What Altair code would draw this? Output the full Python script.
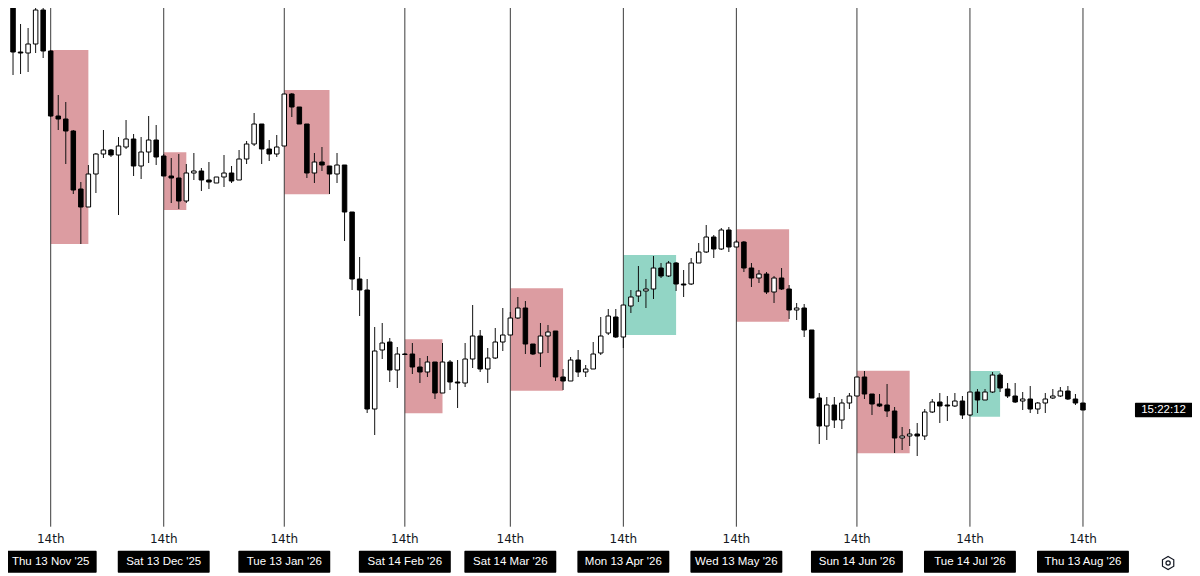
import altair as alt
import pandas as pd

# ---- candle data (2-day candles, index order) ----
OPEN = [605, 548, 547, 556, 590, 549, 484, 481, 469, 411,
        393, 426, 446, 450, 445, 453, 461, 434, 448, 460,
        444, 424, 422, 399, 427, 429, 420, 417, 423, 427,
        420, 441, 456, 476, 451, 446, 454, 506, 493, 476,
        427, 438, 434, 426, 435, 388, 321, 310, 191, 250,
        258, 230, 246, 246, 233, 228, 238, 207, 238, 218,
        217, 241, 264, 231, 242, 258, 265, 282, 292, 256,
        247, 264, 269, 223, 219, 240, 228, 231, 247, 267,
        283, 263, 294, 304, 309, 311, 332, 324, 337, 316,
        316, 337, 348, 363, 351, 370, 353, 358, 332, 322,
        326, 308, 322, 311, 290, 292, 270, 202, 174, 195,
        180, 197, 204, 223, 206, 196, 195, 189, 162, 164,
        166, 164, 188, 198, 195, 194, 199, 185, 208, 200,
        208, 225, 211, 204, 199, 201, 191, 197, 202, 204,
        209, 201, 197]
HIGH = [612, 576, 572, 596, 603, 550, 505, 498, 470, 418,
        435, 447, 470, 451, 463, 480, 466, 463, 484, 475,
        446, 442, 446, 436, 447, 432, 438, 423, 445, 434,
        450, 459, 487, 476, 460, 465, 506, 507, 493, 476,
        447, 453, 434, 447, 435, 388, 343, 321, 273, 277,
        262, 253, 247, 257, 242, 244, 238, 257, 240, 240,
        257, 295, 270, 252, 272, 292, 288, 303, 299, 256,
        277, 275, 269, 231, 243, 250, 235, 258, 283, 291,
        291, 295, 310, 334, 321, 344, 337, 339, 338, 330,
        342, 357, 375, 365, 372, 373, 360, 359, 337, 330,
        328, 324, 332, 315, 297, 296, 270, 207, 203, 203,
        201, 207, 223, 229, 206, 206, 216, 193, 173, 171,
        177, 191, 201, 207, 204, 207, 204, 208, 211, 211,
        228, 227, 217, 217, 208, 214, 198, 207, 211, 213,
        214, 206, 197]
LOW = [525, 526, 528, 547, 542, 483, 470, 436, 406, 356,
       393, 407, 442, 443, 385, 451, 424, 421, 437, 435,
       424, 397, 391, 397, 420, 409, 411, 417, 413, 417,
       420, 436, 454, 436, 439, 443, 454, 483, 476, 422,
       417, 429, 406, 417, 359, 310, 284, 187, 165, 241,
       218, 212, 245, 226, 217, 223, 201, 207, 210, 192,
       213, 232, 228, 217, 241, 249, 265, 281, 246, 245,
       233, 247, 219, 210, 219, 223, 223, 231, 245, 265,
       262, 252, 287, 298, 292, 301, 322, 323, 309, 303,
       315, 337, 347, 342, 350, 348, 353, 328, 313, 317,
       306, 297, 310, 281, 280, 263, 202, 156, 160, 172,
       171, 191, 204, 201, 185, 193, 183, 147, 150, 154,
       144, 160, 187, 177, 179, 193, 181, 184, 187, 200,
       207, 208, 202, 197, 190, 187, 186, 187, 201, 203,
       200, 195, 190]
CLOSE = [548, 547, 556, 590, 549, 484, 481, 469, 410, 393,
         426, 446, 450, 445, 454, 461, 434, 448, 460, 443,
         424, 422, 399, 427, 429, 420, 418, 423, 427, 419,
         441, 456, 476, 451, 446, 453, 506, 493, 476, 427,
         438, 435, 426, 435, 388, 321, 310, 191, 249, 257,
         230, 246, 245.5, 233, 228, 238, 207, 238, 218, 217,
         241, 264, 231, 242, 258, 265, 282, 292, 256, 246,
         264, 268, 223, 219, 240, 228, 231, 246, 264, 284,
         263, 295, 303, 309, 311, 332, 324, 337, 316, 315,
         337, 348, 363, 351, 370, 353, 358, 332, 322, 326,
         308, 322, 311, 290, 292, 270, 202, 174, 195, 180,
         197, 204, 223, 206, 196, 194, 189, 162, 164, 166,
         164, 188, 198, 194, 194, 199, 185, 208, 200, 208,
         225, 212, 204, 198, 201, 191, 197, 201, 204, 209,
         201, 197, 190]

# ---- monthly markers ----
LINE_IDX = [5, 20, 36, 52, 66, 81, 96, 112, 127, 142]
LINE_TEXT = ["14th"] * 10
DATE_LABELS = ["Thu 13 Nov '25", "Sat 13 Dec '25", "Tue 13 Jan '26", "Sat 14 Feb '26",
               "Sat 14 Mar '26", "Mon 13 Apr '26", "Wed 13 May '26", "Sun 14 Jun '26",
               "Tue 14 Jul '26", "Thu 13 Aug '26"]

# ---- shaded range boxes ----
BOX_START = [5, 20, 36, 52, 66, 81, 96, 112, 127]
BOX_END = [10, 23, 42, 57, 73, 88, 103, 119, 131]
BOX_TOP = [550, 447.7, 510, 260.7, 311.7, 345, 370.7, 229.3, 229]
BOX_BOTTOM = [356, 390, 405.7, 186.7, 209.3, 265, 278.3, 146.7, 183.3]
BOX_KIND = ["down", "down", "down", "down", "down", "up", "down", "down", "up"]

COUNTDOWN = ["15:22:12"]

RED = "#dc9ca1"
GREEN = "#92d5c5"
LINE_COLOR = "#3c3c3c"

n = len(OPEN)
candles = pd.DataFrame({
    "i": list(range(n)), "o": OPEN, "h": HIGH, "l": LOW, "c": CLOSE,
})
candles["dir"] = ["up" if c >= o else "down" for o, c in zip(OPEN, CLOSE)]

boxes_df = pd.DataFrame({"start": BOX_START, "end": BOX_END, "top": BOX_TOP,
                         "bottom": BOX_BOTTOM, "kind": BOX_KIND})
marks_df = pd.DataFrame({"idx": LINE_IDX, "tick": LINE_TEXT, "date": DATE_LABELS})
label_df = pd.DataFrame({"text": COUNTDOWN, "price": [CLOSE[-1]]})
icon_df = pd.DataFrame({"k": [0]})

xs = alt.Scale(domain=[-0.667, 156.47], nice=False, zero=False, padding=0)
ys = alt.Scale(domain=[24, 592], nice=False, zero=False, padding=0)


def X(f):
    return alt.X(f, type="quantitative", scale=xs, axis=None)


def Y(f):
    return alt.Y(f, type="quantitative", scale=ys, axis=None)


boxes = alt.Chart(boxes_df).mark_rect().encode(
    x=X("start"), x2="end:Q", y=Y("top"), y2="bottom:Q",
    color=alt.Color("kind:N", scale=alt.Scale(domain=["down", "up"], range=[RED, GREEN]), legend=None),
)

vlines = alt.Chart(marks_df).transform_calculate(
    ytop="600", ybot="73.3"
).mark_rule(color=LINE_COLOR, strokeWidth=1).encode(
    x=X("idx"), y=Y("ytop"), y2="ybot:Q",
)

wicks = alt.Chart(candles).mark_rule(color="#111111", strokeWidth=1, clip=True).encode(
    x=X("i"), y=Y("l"), y2="h:Q",
)

bodies = alt.Chart(candles).mark_bar(size=4.5, stroke="#000000", strokeWidth=1, clip=True).encode(
    x=X("i"), y=Y("o"), y2="c:Q",
    fill=alt.Fill("dir:N", scale=alt.Scale(domain=["up", "down"], range=["#ffffff", "#000000"]), legend=None),
)

ticks = alt.Chart(marks_df).transform_calculate(
    ty="61"
).mark_text(font="DejaVu Sans", fontSize=12, color="#131722", baseline="middle").encode(
    x=X("idx"), y=Y("ty"), text="tick:N",
)

date_boxes = alt.Chart(marks_df).transform_calculate(
    lo="datum.idx - 6.1", hi="datum.idx + 6.1", bt="49.3", bb="27.3"
).mark_rect(color="#000000", cornerRadius=1).encode(
    x=X("lo"), x2="hi:Q", y=Y("bt"), y2="bb:Q",
)

date_text = alt.Chart(marks_df).transform_calculate(
    ty="38"
).mark_text(font="Liberation Sans", fontSize=11.5, color="#ffffff", baseline="middle").encode(
    x=X("idx"), y=Y("ty"), text="date:N",
)

price_box = alt.Chart(label_df).transform_calculate(
    top="datum.price + 7.3", bot="datum.price - 7.3", xl="148.9", xr="156.5"
).mark_rect(color="#000000", cornerRadius=1).encode(
    x=X("xl"), x2="xr:Q", y=Y("top"), y2="bot:Q",
)

price_text = alt.Chart(label_df).transform_calculate(
    tx="152.7"
).mark_text(font="Liberation Sans", fontSize=11.5, color="#ffffff", baseline="middle").encode(
    x=X("tx"), y=Y("price"), text="text:N",
)

HEX = "M0,-1L0.866,-0.5L0.866,0.5L0,1L-0.866,0.5L-0.866,-0.5Z"
icon_hex = alt.Chart(icon_df).transform_calculate(
    ix="153.3", iy="37"
).mark_point(shape=HEX, size=170, filled=False, stroke="#131722", strokeWidth=1.2, opacity=1).encode(
    x=X("ix"), y=Y("iy"))
icon_dot = alt.Chart(icon_df).transform_calculate(
    ix="153.3", iy="37"
).mark_point(shape="circle", size=18, filled=False, stroke="#131722", strokeWidth=1.2, opacity=1).encode(
    x=X("ix"), y=Y("iy"))

chart = alt.layer(
    boxes, vlines, wicks, bodies, ticks, date_boxes, date_text, price_box, price_text, icon_hex, icon_dot
).properties(
    width=1184, height=568, padding=0, autosize="none", background="#ffffff"
).configure_view(strokeWidth=0)

chart.save("out.html", embed_options={"renderer": "svg", "actions": False})
